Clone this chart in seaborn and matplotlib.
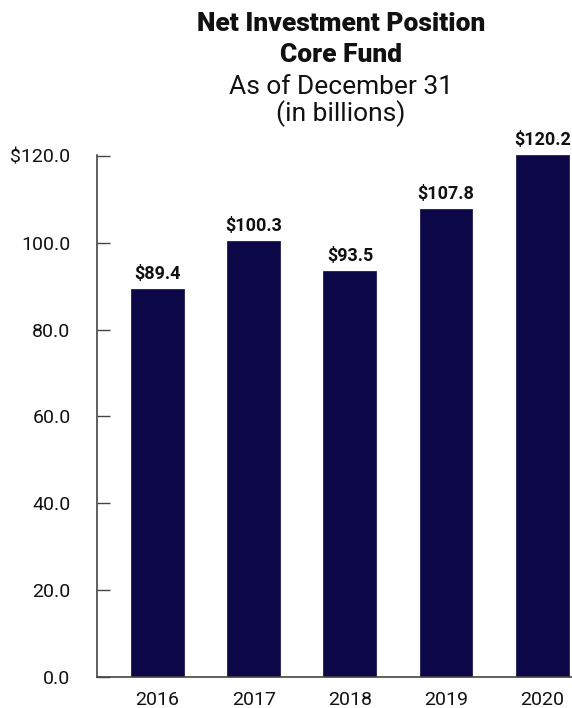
import matplotlib
matplotlib.use("Agg")
import matplotlib.pyplot as plt
import seaborn as sns
import pandas as pd

years = ["2016", "2017", "2018", "2019", "2020"]
values = [89.4, 100.3, 93.5, 107.8, 120.2]
yticks = [0, 20, 40, 60, 80, 100, 120]
ytick_labels = ["0.0", "20.0", "40.0", "60.0", "80.0", "100.0", "$120.0"]
title_lines = ["Net Investment Position", "Core Fund", "As of December 31", "(in billions)"]

sns.set_theme(style="white")
plt.rcParams["font.family"] = ["Roboto", "DejaVu Sans"]

W, H = 572, 708
fig = plt.figure(figsize=(W / 100, H / 100), dpi=100)
ax = fig.add_axes([97 / W, (H - 677) / H, (572 - 97) / W, (677 - 155) / H])

df = pd.DataFrame({"year": years, "value": values})
sns.barplot(data=df, x="year", y="value", color="#0c0848", saturation=1,
            width=0.55, ax=ax, edgecolor="#0c0848", linewidth=0.5)

ax.set_xlim(-0.63, 4.31)
ax.set_ylim(0, 120.2)
ax.set_yticks(yticks)
ax.set_yticklabels(ytick_labels)
ax.set_xlabel("")
ax.set_ylabel("")

for s in ["top", "right"]:
    ax.spines[s].set_visible(False)
for s in ["left", "bottom"]:
    ax.spines[s].set_visible(True)
    ax.spines[s].set_color("#444444")
    ax.spines[s].set_linewidth(1.2)

ax.tick_params(axis="y", direction="in", length=9, width=1.0, color="#444444",
               pad=19, labelsize=14, labelcolor="#111111", left=True)
ax.tick_params(axis="x", length=0, pad=10, labelsize=14, labelcolor="#111111")

for i, v in enumerate(values):
    ax.text(i, v + 1.4, f"${v:.1f}", ha="center", va="bottom", fontsize=13,
            fontweight="bold", color="#111111", clip_on=False)

cx = 341 / W
baselines = [31, 62, 94, 121]
weights = ["heavy", "heavy", "normal", "normal"]
for line, b, w in zip(title_lines, baselines, weights):
    fig.text(cx, 1 - b / H, line, ha="center", va="baseline", fontsize=19,
             fontweight=w, color="#111111")

fig.savefig("out.png", dpi=100)
